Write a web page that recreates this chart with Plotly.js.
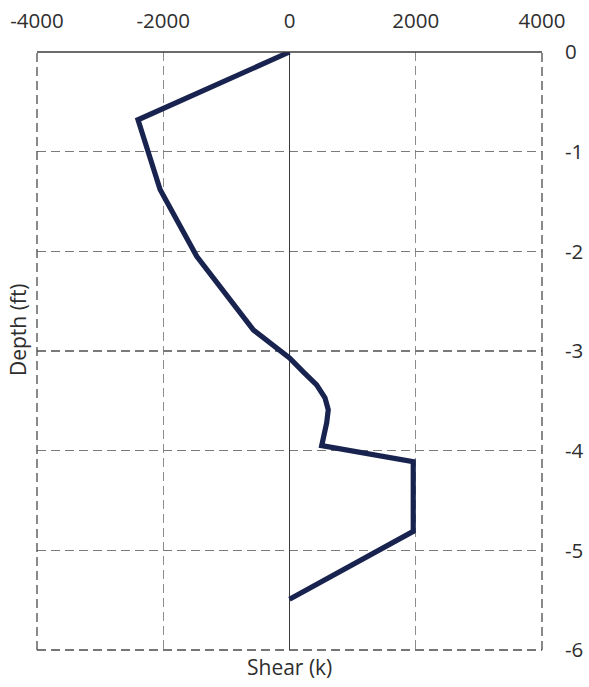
<!DOCTYPE html>
<html>
<head>
<meta charset="utf-8">
<script src="https://cdn.plot.ly/plotly-3.0.1.min.js"></script>
<style>html,body{margin:0;padding:0;background:#fff;}#chart{width:589px;height:687px;}</style>
</head>
<body>
<div id="chart"></div>
<script>
// Shear (k) vs Depth (ft)
var shear = [0, -2400, -2050, -1470, -570, 0, 218, 430, 562, 614, 589, 510, 1960, 1960, 0];
var depth = [0, -0.68, -1.38, -2.05, -2.79, -3.07, -3.21, -3.34, -3.47, -3.59, -3.72, -3.95, -4.11, -4.81, -5.49];
var xTicks = [-4000, -2000, 0, 2000, 4000];
var yTicks = [0, -1, -2, -3, -4, -5, -6];
var xTitle = 'Shear (k)';
var yTitle = 'Depth (ft)';

var font = {family: '"Open Sans", sans-serif', size: 20.5, color: '#2e2e2e'};

var trace = {
  x: shear, y: depth, type: 'scatter', mode: 'lines',
  line: {color: '#18234f', width: 5.2, shape: 'linear'},
  hoverinfo: 'skip'
};

var dashPat = '9px,5px';

var layout = {
  width: 589, height: 687,
  margin: {l: 37, r: 47, t: 52, b: 37},
  paper_bgcolor: '#fff', plot_bgcolor: '#fff',
  showlegend: false,
  font: font,
  xaxis: {
    side: 'top', range: [-4000, 4000], tickvals: xTicks, ticktext: xTicks.map(String),
    showgrid: true, gridcolor: '#8c8c8c', griddash: dashPat, gridwidth: 1.2,
    zeroline: true, zerolinecolor: '#3a3a3a', zerolinewidth: 1.5,
    showline: false, ticks: '', ticklabelstandoff: 19,
    tickfont: font, fixedrange: true
  },
  yaxis: {
    side: 'right', range: [-6, 0], tickvals: yTicks, ticktext: yTicks.map(String),
    showgrid: true, gridcolor: '#7a7a7a', griddash: dashPat, gridwidth: 1.2,
    zeroline: false,
    showline: false, ticks: '', ticklabelstandoff: 22,
    tickfont: font, fixedrange: true
  },
  shapes: [
    {type: 'line', xref: 'paper', yref: 'paper', x0: 0, x1: 1, y0: 1, y1: 1, line: {color: '#3a3a3a', width: 1.5}},
    {type: 'line', xref: 'paper', yref: 'paper', x0: 0, x1: 0, y0: 0, y1: 1, line: {color: '#4a4a4a', width: 1.3, dash: dashPat}},
    {type: 'line', xref: 'paper', yref: 'paper', x0: 1, x1: 1, y0: 0, y1: 1, line: {color: '#4a4a4a', width: 1.3, dash: dashPat}},
    {type: 'line', xref: 'paper', yref: 'paper', x0: 0, x1: 1, y0: 0, y1: 0, line: {color: '#4a4a4a', width: 1.3, dash: dashPat}}
  ],
  annotations: [
    {text: xTitle, xref: 'paper', yref: 'paper', x: 0.5, y: 0, yshift: -17, yanchor: 'middle', xanchor: 'center', showarrow: false, font: {family: font.family, size: 21, color: '#2e2e2e'}},
    {text: yTitle, xref: 'paper', yref: 'paper', x: 0, xshift: -19, y: 0.535, textangle: -90, xanchor: 'center', yanchor: 'middle', showarrow: false, font: {family: font.family, size: 21, color: '#2e2e2e'}}
  ]
};

Plotly.newPlot('chart', [trace], layout, {displayModeBar: false, staticPlot: true});
</script>
</body>
</html>
